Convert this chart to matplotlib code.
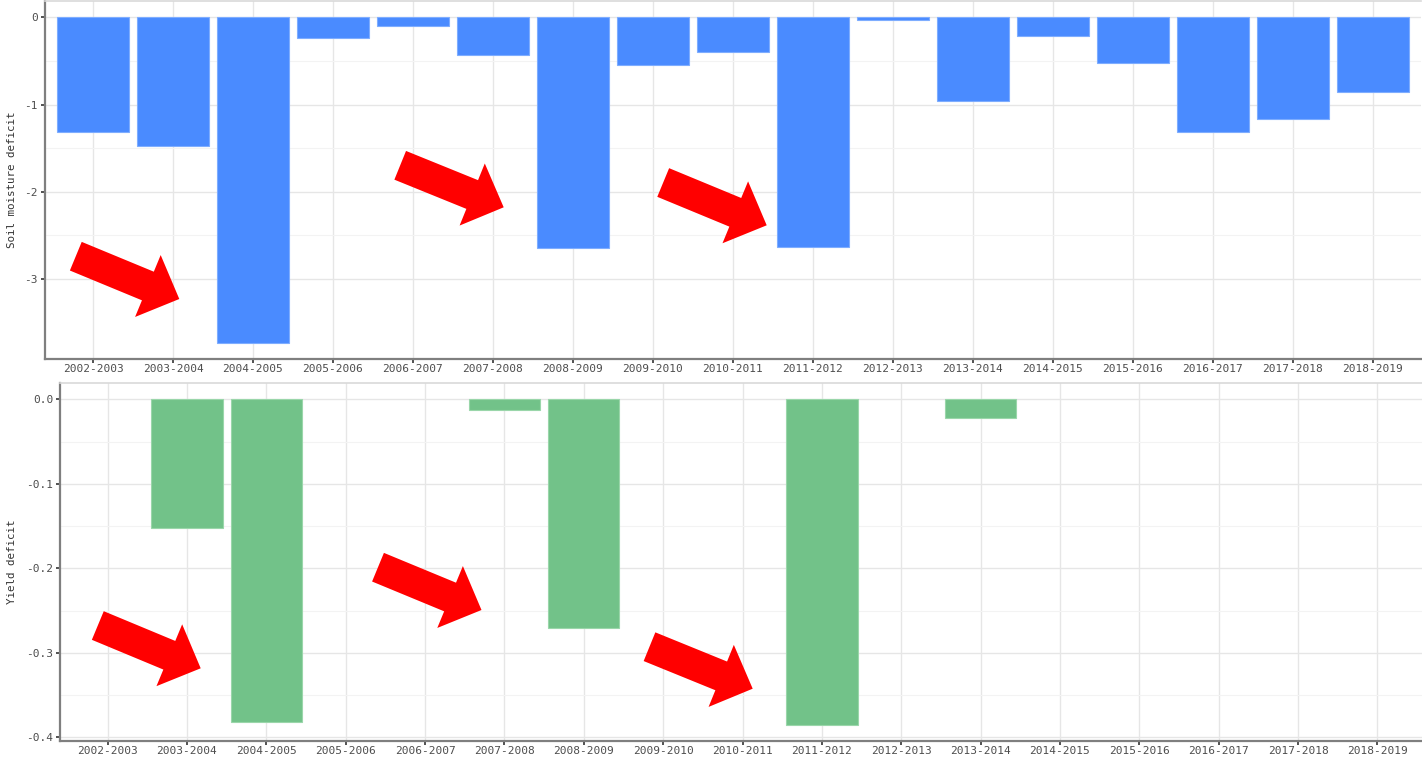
import numpy as np
import matplotlib
matplotlib.use("Agg")
import matplotlib.pyplot as plt
from matplotlib.patches import Polygon
from matplotlib.transforms import blended_transform_factory

# Growing seasons
seasons = ["2002-2003", "2003-2004", "2004-2005", "2005-2006", "2006-2007",
           "2007-2008", "2008-2009", "2009-2010", "2010-2011", "2011-2012",
           "2012-2013", "2013-2014", "2014-2015", "2015-2016", "2016-2017",
           "2017-2018", "2018-2019"]

# Seasonal soil moisture deficit
soil_deficit = [-1.31, -1.47, -3.73, -0.24, -0.10, -0.43, -2.64, -0.55, -0.40,
                -2.63, -0.03, -0.96, -0.22, -0.52, -1.32, -1.17, -0.86]

# Seasonal yield deficit
yield_deficit = [0.0, -0.152, -0.382, 0.0, 0.0, -0.013, -0.270, 0.0, 0.0,
                 -0.385, 0.0, -0.022, 0.0, 0.0, 0.0, 0.0, 0.0]

soil_ticks = [0, -1, -2, -3]
soil_tick_labels = ["0", "-1", "-2", "-3"]
yield_ticks = [0.0, -0.1, -0.2, -0.3, -0.4]
yield_tick_labels = ["0.0", "-0.1", "-0.2", "-0.3", "-0.4"]

# Highlight arrows (figure pixels from top-left): tail -> tip
highlight_arrows = [
    ((75.8, 256.2), (179.3, 299.0)),
    ((400.2, 165.3), (503.7, 207.3)),
    ((663.2, 182.5), (766.7, 225.3)),
    ((97.8, 625.5), (200.7, 668.3)),
    ((378.0, 567.2), (481.5, 610.0)),
    ((649.5, 646.7), (752.7, 688.7)),
]

W, H = 1422, 758
fig = plt.figure(figsize=(W / 100, H / 100), dpi=100)
fig.patch.set_facecolor("white")

MONO = "DejaVu Sans Mono"
TICK_COLOR = "#4d4d4d"


def style_panel(ax, values, ticks, tick_labels, ylabel, color, edge):
    x = np.arange(len(seasons))
    edges = [edge if v != 0 else "none" for v in values]
    ax.bar(x, values, width=0.9, color=color, edgecolor=edges, linewidth=0.8,
           zorder=3)
    lo = min(values)
    hi = max(max(values), 0.0)
    pad = 0.05 * (hi - lo)
    ax.set_ylim(lo - pad, hi + pad)
    ax.set_xlim(-0.6, len(seasons) - 0.4)

    ax.set_xticks(x)
    ax.set_xticklabels(seasons, fontfamily=MONO, fontsize=8, color=TICK_COLOR)
    ax.set_yticks(ticks)
    ax.set_yticklabels(tick_labels, fontfamily=MONO, fontsize=8,
                       color=TICK_COLOR)
    minor = [(ticks[i] + ticks[i + 1]) / 2 for i in range(len(ticks) - 1)]
    ax.set_yticks(minor, minor=True)
    ax.tick_params(axis="x", which="major", length=3, width=1.2,
                   color="#333333", pad=0.5)
    ax.tick_params(axis="y", which="major", length=3, width=1.2,
                   color="#333333", pad=2)
    ax.tick_params(axis="y", which="minor", length=0)

    ax.grid(True, which="major", color="#e6e6e6", linewidth=1.0, zorder=0)
    ax.grid(True, which="minor", axis="y", color="#f3f3f3", linewidth=0.8,
            zorder=0)
    ax.set_axisbelow(True)

    for side in ("left", "bottom"):
        ax.spines[side].set_color("#7f7f7f")
        ax.spines[side].set_linewidth(1.6)
    ax.spines["top"].set_color("#d9d9d9")
    ax.spines["top"].set_linewidth(1.2)
    ax.spines["right"].set_visible(False)

    ax.set_ylabel(ylabel, fontfamily=MONO, fontsize=7.8, color="#333333")
    # y label sits near the left edge of the figure, centred on the panel
    ax.yaxis.set_label_coords(
        17 / W, 0.5, transform=blended_transform_factory(fig.transFigure,
                                                         ax.transAxes))


ax_top = fig.add_axes([45 / W, 1 - 359 / H, 1376 / W, 358 / H])
style_panel(ax_top, soil_deficit, soil_ticks, soil_tick_labels,
            "Soil moisture deficit", "#4a8bff", "#7eadff")

ax_bot = fig.add_axes([60 / W, 1 - 741 / H, 1365 / W, 358 / H])
style_panel(ax_bot, yield_deficit, yield_ticks, yield_tick_labels,
            "Yield deficit", "#72c289", "#9ad6aa")


def block_arrow(tail, tip, shaft_w=31.0, head_w=67.0, head_len=34.0):
    tail = np.asarray(tail, float)
    tip = np.asarray(tip, float)
    d = tip - tail
    u = d / np.hypot(*d)
    n = np.array([-u[1], u[0]])
    base = tip - u * head_len
    pts = [tail + n * shaft_w / 2, base + n * shaft_w / 2, base + n * head_w / 2,
           tip, base - n * head_w / 2, base - n * shaft_w / 2,
           tail - n * shaft_w / 2]
    pts = np.array([(px / W, 1 - py / H) for px, py in pts])
    return Polygon(pts, closed=True, facecolor="#ff0000", edgecolor="none",
                   transform=fig.transFigure, zorder=10)


for tail, tip in highlight_arrows:
    fig.add_artist(block_arrow(tail, tip))

fig.savefig("out.png", dpi=100, facecolor="white")
